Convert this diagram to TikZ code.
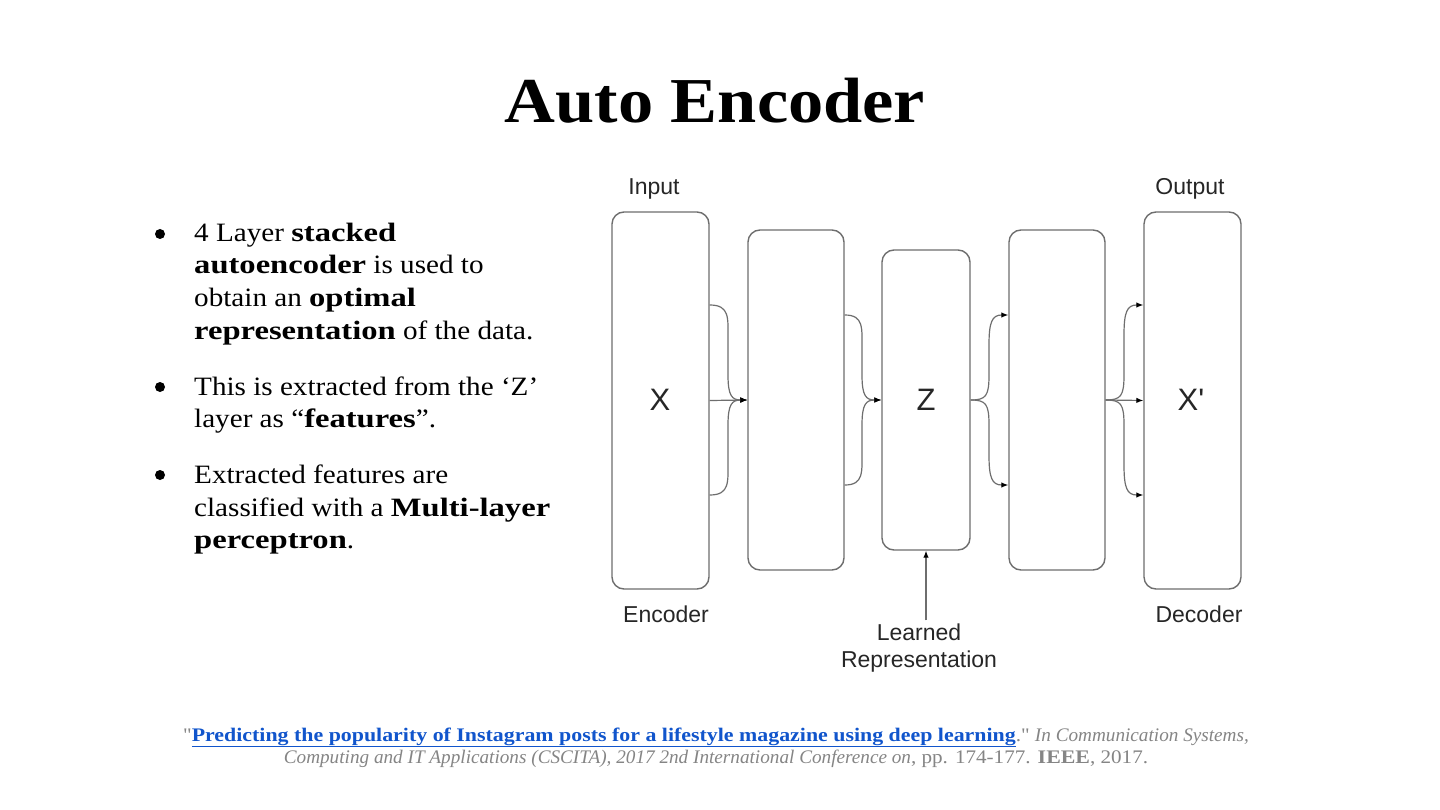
\documentclass[tikz,border=0pt]{standalone}
\usepackage{fontspec}
\setmainfont{Liberation Serif}[FakeStretch=1.1,BoldFeatures={FakeStretch=1.23}]
\newfontfamily\titlefont{Liberation Serif}[FakeStretch=1.1]
\newfontfamily\citefont{Liberation Serif}[FakeStretch=1.1,ItalicFeatures={FakeStretch=1.0},BoldFeatures={FakeStretch=1.14}]
\newfontfamily\arialf{Liberation Sans}
\newcommand{\straightq}{{\addfontfeatures{Ligatures=TeXOff}"}}
\usetikzlibrary{arrows.meta}
\definecolor{linkblue}{HTML}{1155CC}
\definecolor{citegray}{HTML}{858585}
\definecolor{boxgray}{HTML}{6E6E6E}
\begin{document}
\begin{tikzpicture}[x=1pt,y=-1pt,
  layer/.style={draw=boxgray,line width=1.4pt,rounded corners=12pt,inner sep=0pt,minimum width=97pt},
  conn/.style={draw=boxgray,line width=1.2pt},
  arr/.style={conn,-{Latex[length=7pt,width=5.5pt,black]}},
  lbl/.style={font=\arialf\fontsize{23}{26}\selectfont,text=black!85},
  big/.style={font=\arialf\fontsize{31}{36}\selectfont,text=black!85},
  bl/.style={anchor=base west,inner sep=0pt,font=\fontsize{26.5}{32}\selectfont},
  dot/.style={circle,fill=black,inner sep=0pt,minimum size=10pt},
  cite/.style={anchor=base,inner sep=0pt,text=citegray,font=\citefont\fontsize{19.2}{23}\selectfont}]
\useasboundingbox (0,0) rectangle (1440,810);
\fill[white] (0,0) rectangle (1440,810);
% title
\node[font=\titlefont\fontsize{64}{72}\selectfont\bfseries] (title) at (715,101) {Auto Encoder};
% bullets
\node[dot] (d1) at (160,234) {};
\node[bl] (l1) at (194,242) {4 Layer \textbf{stacked}};
\node[bl] (l2) at (194,274) {\textbf{autoencoder} is used to};
\node[bl] (l3) at (194,307) {obtain an \textbf{optimal}};
\node[bl] (l4) at (194,339) {\textbf{representation} of the data.};
\node[dot] (d2) at (160,387) {};
\node[bl] (l5) at (194,395) {This is extracted from the ‘Z’};
\node[bl] (l6) at (194,427) {layer as “\textbf{features}”.};
\node[dot] (d3) at (160,475) {};
\node[bl] (l7) at (194,483) {Extracted features are};
\node[bl] (l8) at (194,516) {classified with a \textbf{Multi-layer}};
\node[bl] (l9) at (194,548) {\textbf{perceptron}.};
% diagram boxes
\node[layer,minimum height=377pt] (b1) at (660.5,400.5) {};
\node[layer,minimum height=340pt,minimum width=96pt] (b2) at (796,400) {};
\node[layer,minimum height=300pt,minimum width=88pt] (b3) at (926,400) {};
\node[layer,minimum height=340pt,minimum width=96pt] (b4) at (1057,400) {};
\node[layer,minimum height=377pt] (b5) at (1192.5,400.5) {};
\node[big] (tx) at (660,400) {X};
\node[big] (tz) at (926,400) {Z};
\node[big] (txp) at (1191,400) {X'};
\node[lbl] (in) at (654,189) {Input};
\node[lbl] (out) at (1190,189) {Output};
\node[lbl] (enc) at (666,614) {Encoder};
\node[lbl] (dec) at (1199,614) {Decoder};
\node[lbl,align=center,font=\arialf\fontsize{23}{27}\selectfont] (lr) at (919,648) {Learned\\Representation};
% connectors b1 -> b2
\draw[arr] (b1.east) -- (b2.west);
\draw[arr] (b1.east |- 0,305) .. controls (730,305) and (728,318) .. (728,340) -- (728,375) .. controls (728,396) and (732,400) .. (b2.west);
\draw[arr] (b1.east |- 0,495) .. controls (730,495) and (728,482) .. (728,460) -- (728,425) .. controls (728,404) and (732,400) .. (b2.west);
% b2 -> b3
\draw[arr] (b2.east |- 0,315) .. controls (864,315) and (862,328) .. (862,350) -- (862,375) .. controls (862,396) and (866,400) .. (b3.west);
\draw[arr] (b2.east |- 0,485) .. controls (864,485) and (862,472) .. (862,450) -- (862,425) .. controls (862,404) and (866,400) .. (b3.west);
% b3 -> b4
\draw[arr] (b3.east) .. controls (986,400) and (989,396) .. (989,375) -- (989,345) .. controls (989,322) and (992,315) .. (b4.west |- 0,315);
\draw[arr] (b3.east) .. controls (986,400) and (989,404) .. (989,425) -- (989,455) .. controls (989,478) and (992,485) .. (b4.west |- 0,485);
% b4 -> b5
\draw[arr] (b4.east) -- (b5.west);
\draw[arr] (b4.east) .. controls (1121,400) and (1124,396) .. (1124,375) -- (1124,335) .. controls (1124,312) and (1127,305) .. (b5.west |- 0,305);
\draw[arr] (b4.east) .. controls (1121,400) and (1124,404) .. (1124,425) -- (1124,465) .. controls (1124,488) and (1127,495) .. (b5.west |- 0,495);
% learned representation arrow
\draw[arr] (lr.north -| b3.south) -- (b3.south);
% citation
\node[cite] (c1) at (716,741) {\straightq\textcolor{linkblue}{\bfseries\underline{Predicting the popularity of Instagram posts for a lifestyle magazine using deep learning}}.\straightq\ \textit{In Communication Systems,}};
\node[cite] (c2) at (716,763) {\textit{Computing and IT Applications (CSCITA), 2017 2nd International Conference on}, pp. 174-177. \textbf{IEEE}, 2017.};
\end{tikzpicture}
\end{document}
